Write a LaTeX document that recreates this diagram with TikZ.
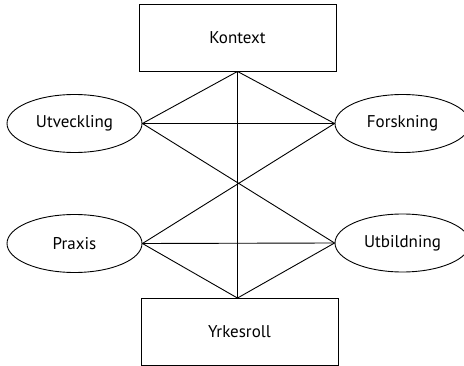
\documentclass[tikz,border=0pt]{standalone}
\usepackage{fontspec}
\setmainfont{PT Sans}
\usetikzlibrary{shapes.geometric}

\begin{document}
\begin{tikzpicture}[x=1pt,y=-1pt,line width=0.9pt,font=\fontsize{17}{20}\selectfont,
	box/.style={draw,rectangle,minimum width=197pt,minimum height=67pt,inner sep=0pt},
	oval/.style={draw,ellipse,minimum width=135pt,minimum height=58pt,inner sep=0pt}]
	\useasboundingbox (0,0) rectangle (464,366);
	\node[box] (kontext) at (237.5,37.5) {Kontext};
	\node[box] (yrkesroll) at (239.5,332) {Yrkesroll};
	\node[oval] (utveckling) at (74.5,123.5) {Utveckling};
	\node[oval] (forskning) at (402.5,123.5) {Forskning};
	\node[oval] (praxis) at (74.5,243.5) {Praxis};
	\node[oval] (utbildning) at (402.5,243) {Utbildning};
	\coordinate (spets) at (yrkesroll.north -| kontext.south);
	\foreach \a/\b in {kontext.south/utveckling.east, kontext.south/forskning.west,
		utveckling.east/forskning.west, utveckling.east/utbildning.west,
		forskning.west/praxis.east, praxis.east/utbildning.west,
		praxis.east/spets, utbildning.west/spets, kontext.south/spets}
		\draw (\a) -- (\b);
\end{tikzpicture}
\end{document}
